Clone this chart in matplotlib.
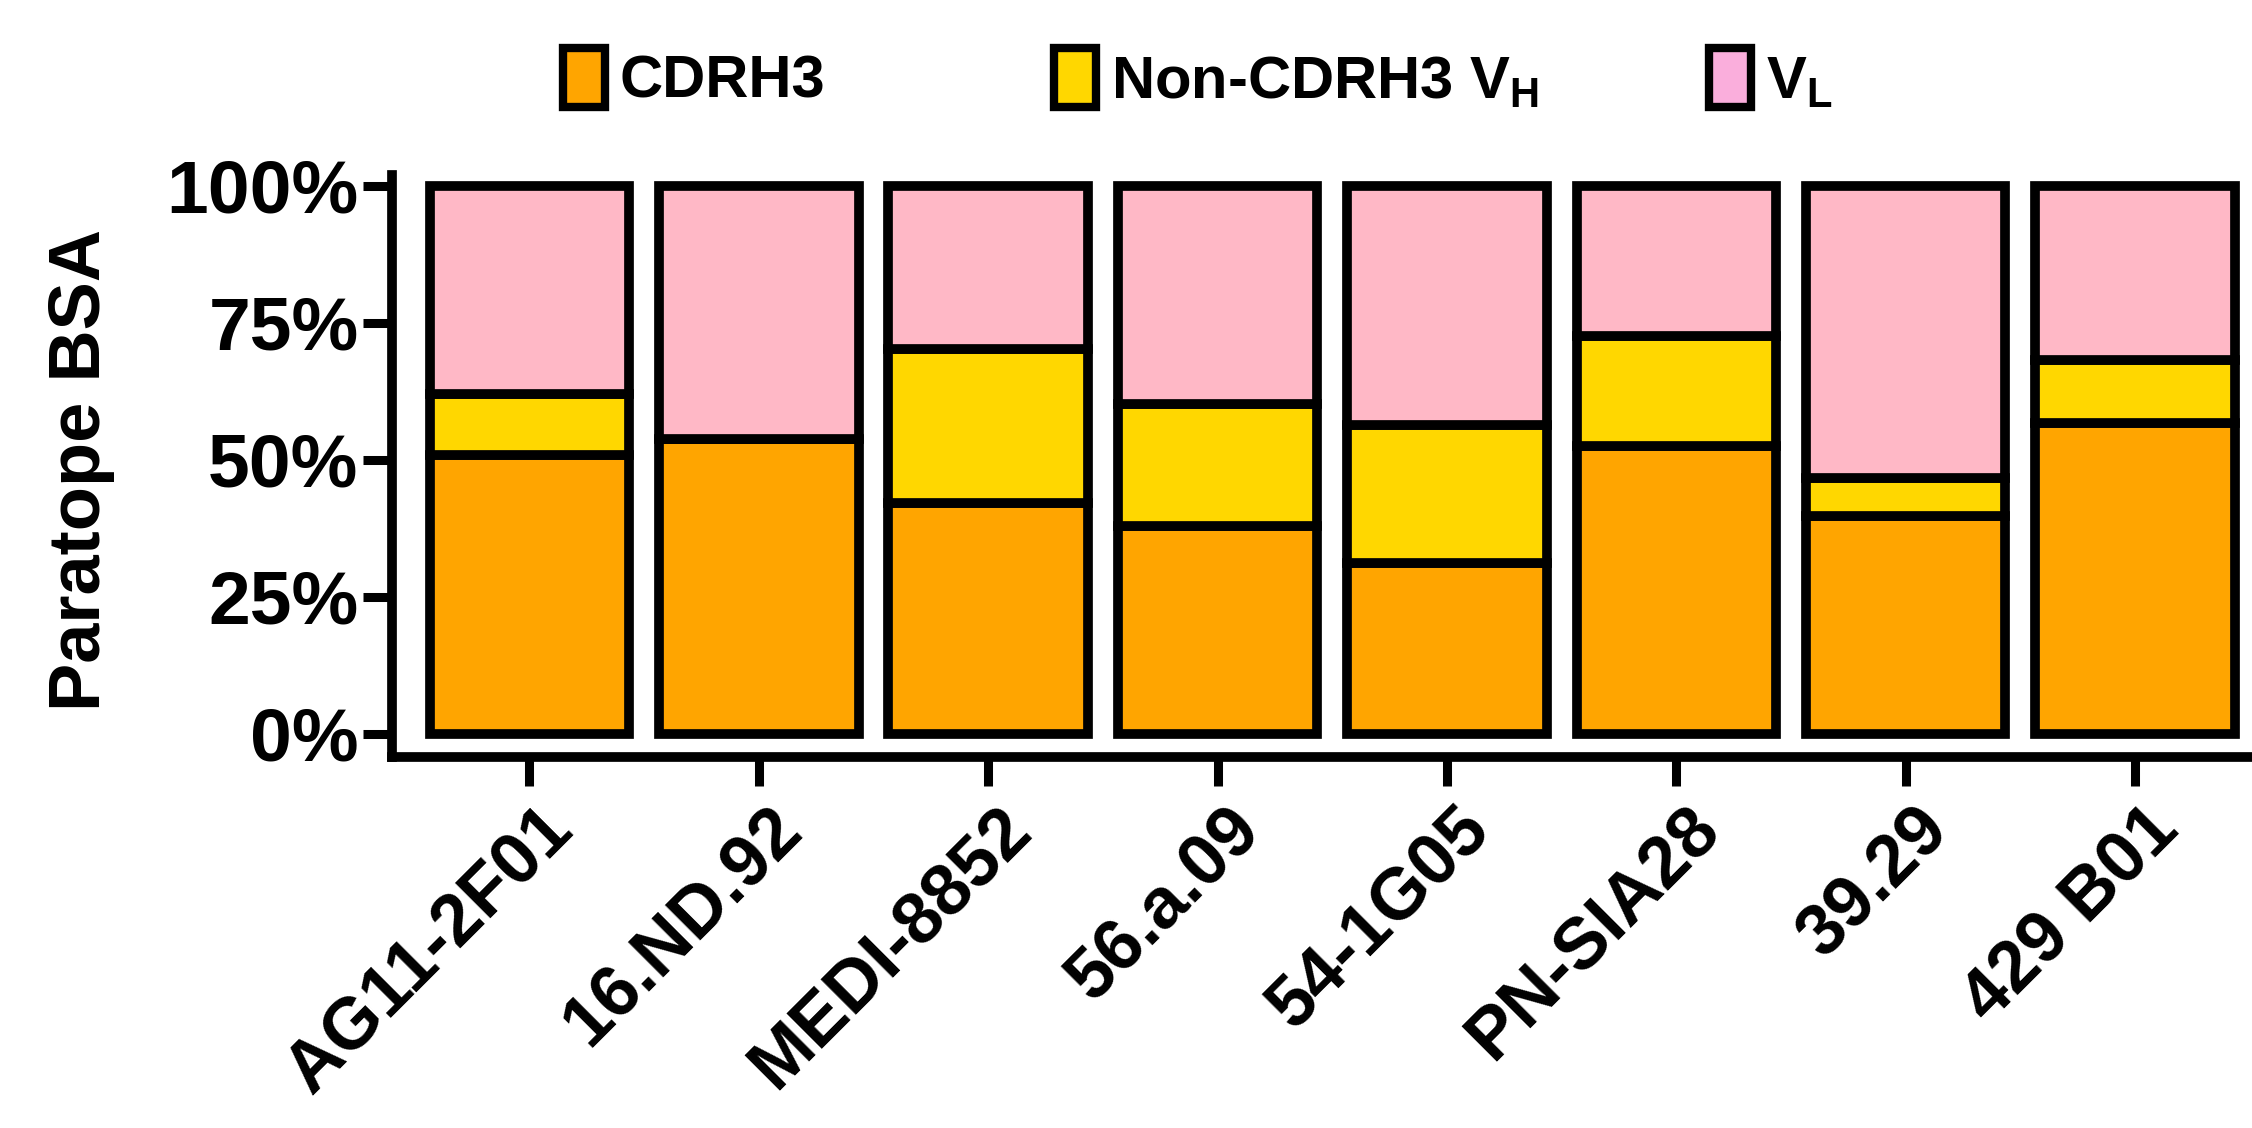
import matplotlib
matplotlib.use('Agg')
import numpy as np
import matplotlib.pyplot as plt
from matplotlib.patches import Patch
from matplotlib import transforms

plt.rcParams['font.family'] = ['Liberation Sans', 'DejaVu Sans']
plt.rcParams['font.weight'] = 'bold'
plt.rcParams['mathtext.fontset'] = 'custom'
plt.rcParams['mathtext.bf'] = 'Liberation Sans:bold'
plt.rcParams['mathtext.rm'] = 'Liberation Sans:bold'

# 데이터 (그림에서 읽은 값, %)
antibodies = ['AG11-2F01', '16.ND.92', 'MEDI-8852', '56.a.09',
              '54-1G05', 'PN-SIA28', '39.29', '429 B01']
cdrh3 = [50.8, 53.8, 42.1, 38.0, 31.1, 52.5, 39.8, 56.8]
non_cdrh3_vh = [11.3, 0.0, 28.2, 22.2, 25.3, 20.1, 6.8, 11.4]
vl = [100 - a - b for a, b in zip(cdrh3, non_cdrh3_vh)]
y_ticks = [0, 25, 50, 75, 100]
y_tick_labels = ['0%', '25%', '50%', '75%', '100%']

c_orange = '#FFA500'
c_yellow = '#FFD700'
c_pink = '#FFB8C6'
c_pink_leg = '#FAAEDC'

fig = plt.figure(figsize=(22.52, 11.28), dpi=100)
ax = fig.add_axes([0.174, 0.329, 0.826, 0.516])

x = np.arange(len(antibodies))
w = 0.87
lw = 7.0
bottom2 = np.array(cdrh3)
bottom3 = bottom2 + np.array(non_cdrh3_vh)
ax.bar(x, cdrh3, w, color=c_orange, edgecolor='black', linewidth=lw)
ax.bar(x, non_cdrh3_vh, w, bottom=bottom2, color=c_yellow, edgecolor='black', linewidth=lw)
ax.bar(x, vl, w, bottom=bottom3, color=c_pink, edgecolor='black', linewidth=lw)

ax.set_xlim(-0.60, 7.51)
ax.set_ylim(-4.2, 102.0)
ax.set_yticks(y_ticks)
ax.set_yticklabels(y_tick_labels)
ax.set_xticks(x)
ax.set_xticklabels(antibodies, rotation=45, ha='right', va='top', rotation_mode='anchor')

for s in ['top', 'right']:
    ax.spines[s].set_visible(False)
for s in ['left', 'bottom']:
    ax.spines[s].set_linewidth(7)

ax.tick_params(axis='both', length=21, width=6.5, labelsize=54)
ax.tick_params(axis='y', pad=3)
ax.tick_params(axis='x', pad=6, labelsize=52)

# x 라벨 약간 오른쪽으로
offset = transforms.ScaledTranslation(0.08, 0, fig.dpi_scale_trans)
for lab in ax.get_xticklabels():
    lab.set_transform(lab.get_transform() + offset)

ax.set_ylabel('Paratope BSA', fontsize=52, fontweight='bold')
ax.yaxis.set_label_coords(-0.149, 0.493)

# 범례 (항목별로 위치 지정)
entries = [
    (c_orange, 'CDRH3', 0.250),
    (c_yellow, 'Non-CDRH3 V$_\\mathbf{H}$', 0.468),
    (c_pink_leg, 'V$_\\mathbf{L}$', 0.759),
]
for col, txt, xpos in entries:
    h = Patch(facecolor=col, edgecolor='black', linewidth=6)
    fig.legend([h], [txt], loc='center left', bbox_to_anchor=(xpos, 0.93),
               frameon=False, handlelength=0.7, handleheight=1.15,
               handletextpad=0.25, borderpad=0, borderaxespad=0,
               prop={'weight': 'bold', 'size': 43})

fig.savefig('out.png', dpi=100)
